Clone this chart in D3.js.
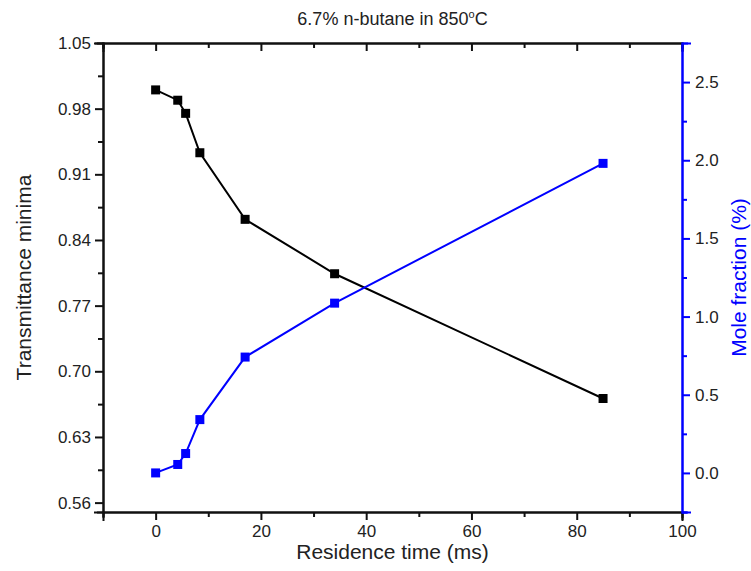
<!DOCTYPE html>
<html>
<head>
<meta charset="utf-8">
<script src="https://cdn.jsdelivr.net/npm/d3@7"></script>
<style>
  body { margin: 0; background: #fff; }
  svg { display: block; font-family: "Liberation Sans", Arial, sans-serif; }
</style>
</head>
<body>
<svg id="chart" width="751" height="571"></svg>
<script>
const titleText = "6.7% n-butane in 850";
const xLabel = "Residence time (ms)";
const yLeftLabel = "Transmittance minima";
const yRightLabel = "Mole fraction (%)";

const residenceTime = [0, 4.2, 5.7, 8.4, 17, 34, 85];
const transmittance = [1.0, 0.989, 0.975, 0.933, 0.862, 0.804, 0.671];
const moleFraction = [0.0, 0.054, 0.124, 0.341, 0.741, 1.086, 1.98];

const xTicks = [0, 20, 40, 60, 80, 100];
const xMinor = [-10, 10, 30, 50, 70, 90];
const yLeftTicks = [0.56, 0.63, 0.70, 0.77, 0.84, 0.91, 0.98, 1.05];
const yLeftMinor = [0.595, 0.665, 0.735, 0.805, 0.875, 0.945, 1.015];
const yRightTicks = [0.0, 0.5, 1.0, 1.5, 2.0, 2.5];
const yRightMinor = [-0.25, 0.25, 0.75, 1.25, 1.75, 2.25];

const svg = d3.select("#chart");
const L = 103, R = 682, T = 43, B = 512;

const x = d3.scaleLinear().domain([-10, 100]).range([L, R]);
const yL = d3.scaleLinear().domain([0.55, 1.05]).range([B, T]);
const yR = d3.scaleLinear().domain([-0.25, 2.75]).range([B, T]);

const fs = 17;

// bottom axis
const gB = svg.append("g").attr("transform", `translate(0,${B})`);
gB.call(d3.axisBottom(x).tickValues(xTicks).tickSize(8).tickPadding(5).tickFormat(d3.format("d")));
gB.append("g").call(d3.axisBottom(x).tickValues(xMinor).tickSize(5).tickFormat(""));
// top axis (inward ticks, no labels)
const gT = svg.append("g").attr("transform", `translate(0,${T})`);
gT.call(d3.axisTop(x).tickValues(xTicks).tickSize(-8).tickFormat(""));
gT.append("g").call(d3.axisTop(x).tickValues(xMinor).tickSize(-5).tickFormat(""));
// left axis
const gL = svg.append("g").attr("transform", `translate(${L},0)`);
gL.call(d3.axisLeft(yL).tickValues(yLeftTicks).tickSize(8).tickPadding(4).tickFormat(d3.format(".2f")));
gL.append("g").call(d3.axisLeft(yL).tickValues(yLeftMinor).tickSize(5).tickFormat(""));
// right axis
const gR = svg.append("g").attr("transform", `translate(${R},0)`);
gR.call(d3.axisRight(yR).tickValues(yRightTicks).tickSize(8).tickPadding(5).tickFormat(d3.format(".1f")));
gR.append("g").call(d3.axisRight(yR).tickValues(yRightMinor).tickSize(5).tickFormat(""));

[gB, gT, gL].forEach(g => {
  g.selectAll("path, line").attr("stroke", "#111").attr("stroke-width", 2);
  g.selectAll("text").attr("fill", "#222").style("font-size", fs + "px");
  g.selectAll(".domain").attr("stroke-width", 2);
});
gR.selectAll("path, line").attr("stroke", "#0000ff").attr("stroke-width", 2);
gR.selectAll("text").attr("fill", "#222").style("font-size", fs + "px");
svg.selectAll(".domain").attr("stroke-linecap", "square");

// lines
const lineL = d3.line().x((d, i) => x(residenceTime[i])).y(d => yL(d));
const lineR = d3.line().x((d, i) => x(residenceTime[i])).y(d => yR(d));
svg.append("path").datum(transmittance).attr("d", lineL)
  .attr("fill", "none").attr("stroke", "#000").attr("stroke-width", 2);
svg.append("path").datum(moleFraction).attr("d", lineR)
  .attr("fill", "none").attr("stroke", "#0000ff").attr("stroke-width", 2);

const ms = 9;
svg.append("g").selectAll("rect").data(transmittance).join("rect")
  .attr("x", (d, i) => x(residenceTime[i]) - ms / 2)
  .attr("y", d => yL(d) - ms / 2)
  .attr("width", ms).attr("height", ms).attr("fill", "#000");
svg.append("g").selectAll("rect").data(moleFraction).join("rect")
  .attr("x", (d, i) => x(residenceTime[i]) - ms / 2)
  .attr("y", d => yR(d) - ms / 2)
  .attr("width", ms).attr("height", ms).attr("fill", "#0000ff");

// title
const t = svg.append("text").attr("x", (L + R) / 2).attr("y", 25)
  .attr("text-anchor", "middle").attr("fill", "#222").style("font-size", "18px");
t.append("tspan").text(titleText);
t.append("tspan").attr("dy", -7).style("font-size", "11px").text("o");
t.append("tspan").attr("dy", 7).text("C");

svg.append("text").attr("x", (L + R) / 2).attr("y", 559)
  .attr("text-anchor", "middle").attr("fill", "#222").style("font-size", "21px").text(xLabel);
svg.append("text").attr("transform", `translate(31,${(T + B) / 2}) rotate(-90)`)
  .attr("text-anchor", "middle").attr("fill", "#222").style("font-size", "21px").text(yLeftLabel);
svg.append("text").attr("transform", `translate(746,${(T + B) / 2}) rotate(-90)`)
  .attr("text-anchor", "middle").attr("fill", "#0000ff").style("font-size", "21px").text(yRightLabel);
</script>
</body>
</html>
